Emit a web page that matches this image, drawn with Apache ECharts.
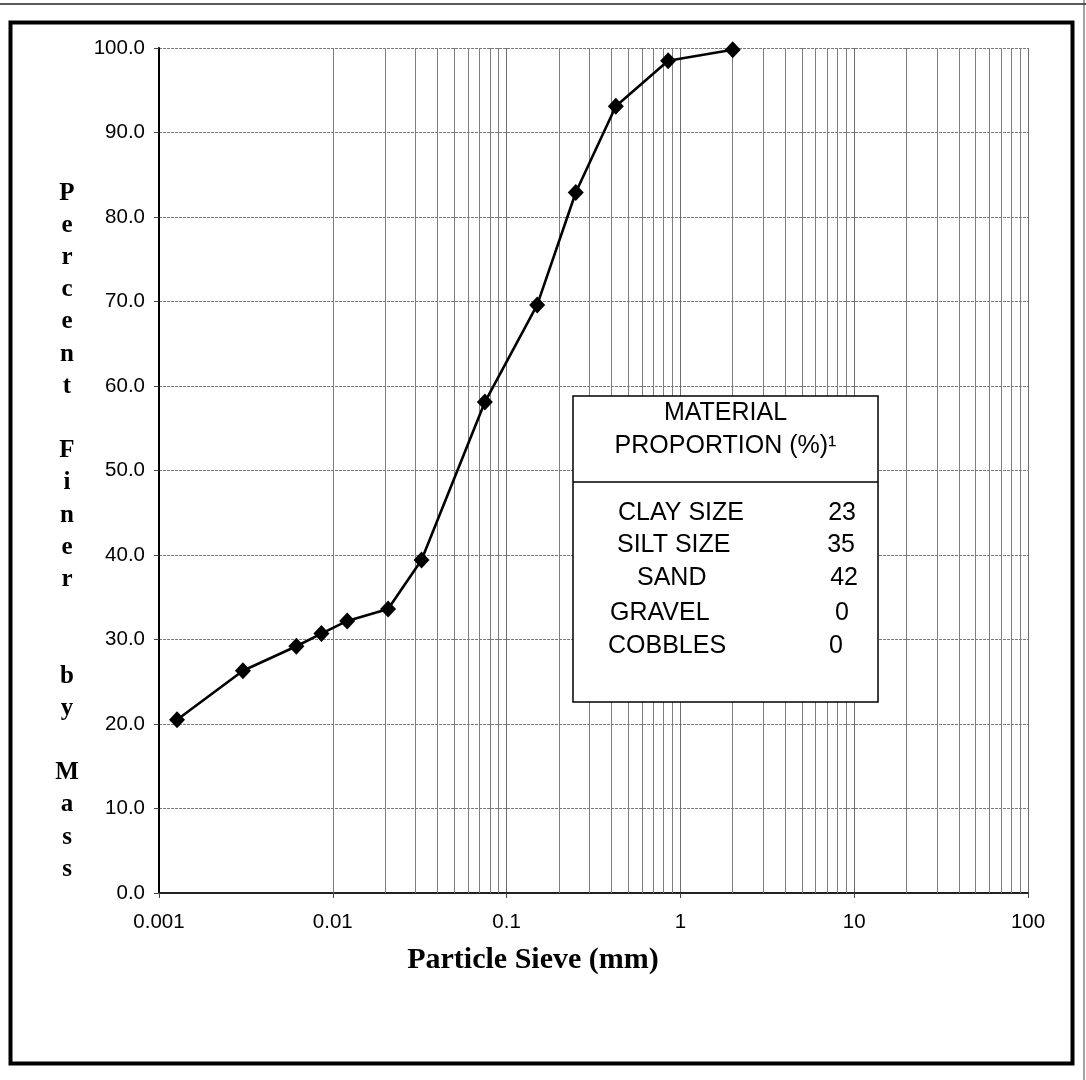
<!DOCTYPE html>
<html>
<head>
<meta charset="utf-8">
<script src="https://cdn.jsdelivr.net/npm/echarts@6/dist/echarts.min.js"></script>
<style>
html,body{margin:0;padding:0;background:#fff;}
#chart{width:1086px;height:1080px;}
</style>
</head>
<body>
<div id="chart"></div>
<script>
// ---- data ----
const sieveSizes = [0.00127, 0.00304, 0.00617, 0.0086, 0.0121, 0.0208, 0.0324, 0.075, 0.15, 0.25, 0.425, 0.85, 2.0];
const percentFiner = [20.5, 26.3, 29.2, 30.7, 32.2, 33.6, 39.4, 58.1, 69.6, 82.9, 93.1, 98.5, 99.8];
const xTickLabels = ['0.001', '0.01', '0.1', '1', '10', '100'];
const yTickLabels = ['0.0', '10.0', '20.0', '30.0', '40.0', '50.0', '60.0', '70.0', '80.0', '90.0', '100.0'];
const decades = [0.001, 0.01, 0.1, 1, 10];
const minorMultipliers = [2, 3, 4, 5, 6, 7, 8, 9];
const materialNames = ['CLAY SIZE', 'SILT SIZE', 'SAND', 'GRAVEL', 'COBBLES'];
const materialValues = [23, 35, 42, 0, 0];
const tableTitle = ['MATERIAL', 'PROPORTION (%)\u00B9'];
const xTitle = 'Particle Sieve (mm)';
const yTitleLines = ['P','e','r','c','e','n','t','','F','i','n','e','r','','','b','y','','M','a','s','s'];

// minor gridline positions (axis values)
const minorGrid = [];
decades.forEach(d => minorMultipliers.forEach(m => minorGrid.push(+(d * m).toPrecision(3))));

const chart = echarts.init(document.getElementById('chart'));

const labelX = [618, 617, 637, 610, 608];
const valueRight = [856, 855, 858, 849, 843];
const rowY = [513, 545, 578, 613, 646];
const sansFont = '25px "Liberation Sans", Arial, sans-serif';

const graphics = [
  // page frame
  { type: 'line', shape: { x1: 0, y1: 4, x2: 1086, y2: 4 }, style: { stroke: '#222', lineWidth: 1.5 }, z: 200 },
  { type: 'line', shape: { x1: 1084, y1: 0, x2: 1084, y2: 1080 }, style: { stroke: '#444', lineWidth: 1 }, z: 200 },
  { type: 'rect', shape: { x: 10.5, y: 22.5, width: 1062, height: 1041 }, style: { fill: 'none', stroke: '#000', lineWidth: 4 }, z: 200 },
  // table box
  { type: 'rect', shape: { x: 573, y: 396, width: 305, height: 306 }, style: { fill: '#fff', stroke: '#000', lineWidth: 1.5 }, z: 100 },
  { type: 'line', shape: { x1: 573, y1: 482, x2: 878, y2: 482 }, style: { stroke: '#000', lineWidth: 1.5 }, z: 101 },
  { type: 'text', x: 725.5, y: 413, style: { text: tableTitle[0], font: sansFont, fill: '#000', textAlign: 'center', textVerticalAlign: 'middle' }, z: 101 },
  { type: 'text', x: 725.5, y: 446, style: { text: tableTitle[1], font: sansFont, fill: '#000', textAlign: 'center', textVerticalAlign: 'middle' }, z: 101 },
  // axis titles
  { type: 'text', x: 533, y: 960, style: { text: xTitle, font: 'bold 30px "Liberation Serif", "Times New Roman", serif', fill: '#000', textAlign: 'center', textVerticalAlign: 'middle' }, z: 101 },
  { type: 'text', x: 67, y: 193 - 16, style: { text: yTitleLines.join('\n'), font: 'bold 25px "Liberation Serif", "Times New Roman", serif', lineHeight: 32.2, fill: '#000', textAlign: 'center', textVerticalAlign: 'top' }, z: 101 }
];
materialNames.forEach((n, i) => {
  graphics.push({ type: 'text', x: labelX[i], y: rowY[i], style: { text: n, font: sansFont, fill: '#000', textAlign: 'left', textVerticalAlign: 'middle' }, z: 101 });
  graphics.push({ type: 'text', x: valueRight[i], y: rowY[i], style: { text: String(materialValues[i]), font: sansFont, fill: '#000', textAlign: 'right', textVerticalAlign: 'middle' }, z: 101 });
});

chart.setOption({
  animation: false,
  backgroundColor: '#fff',
  grid: { left: 159, top: 48, width: 869, height: 845, containLabel: false },
  xAxis: {
    type: 'log', logBase: 10, min: 0.001, max: 100, splitNumber: 5,
    axisLine: { show: true, onZero: false, lineStyle: { color: '#222', width: 2 } },
    axisTick: { show: true, length: 5, inside: false, lineStyle: { color: '#444' } },
    axisLabel: {
      margin: 19, fontSize: 20.5, color: '#000', fontFamily: '"Liberation Sans", Arial, sans-serif',
      formatter: v => xTickLabels[Math.round(Math.log10(v)) + 3] || ''
    },
    splitLine: { show: true, lineStyle: { color: '#6e6e6e', width: 1 } }
  },
  yAxis: {
    type: 'value', min: 0, max: 100, interval: 10,
    axisLine: { show: true, lineStyle: { color: '#000', width: 2 } },
    axisTick: { show: true, length: 5, lineStyle: { color: '#444' } },
    axisLabel: {
      margin: 14, fontSize: 20.5, color: '#000', fontFamily: '"Liberation Sans", Arial, sans-serif',
      formatter: v => yTickLabels[Math.round(v / 10)]
    },
    splitLine: { show: true, lineStyle: { color: '#7a7a7a', width: 1, type: [3, 1] } }
  },
  series: [{
    type: 'line',
    data: sieveSizes.map((s, i) => [s, percentFiner[i]]),
    lineStyle: { color: '#000', width: 2.6 },
    itemStyle: { color: '#000' },
    symbol: 'diamond', symbolSize: [16, 17],
    z: 5,
    markLine: {
      silent: true, symbol: ['none', 'none'], label: { show: false },
      lineStyle: { color: '#7e7e7e', width: 1, type: 'solid' },
      data: minorGrid.map(v => ({ xAxis: v })),
      z: 1
    }
  }],
  graphic: graphics
});
</script>
</body>
</html>
